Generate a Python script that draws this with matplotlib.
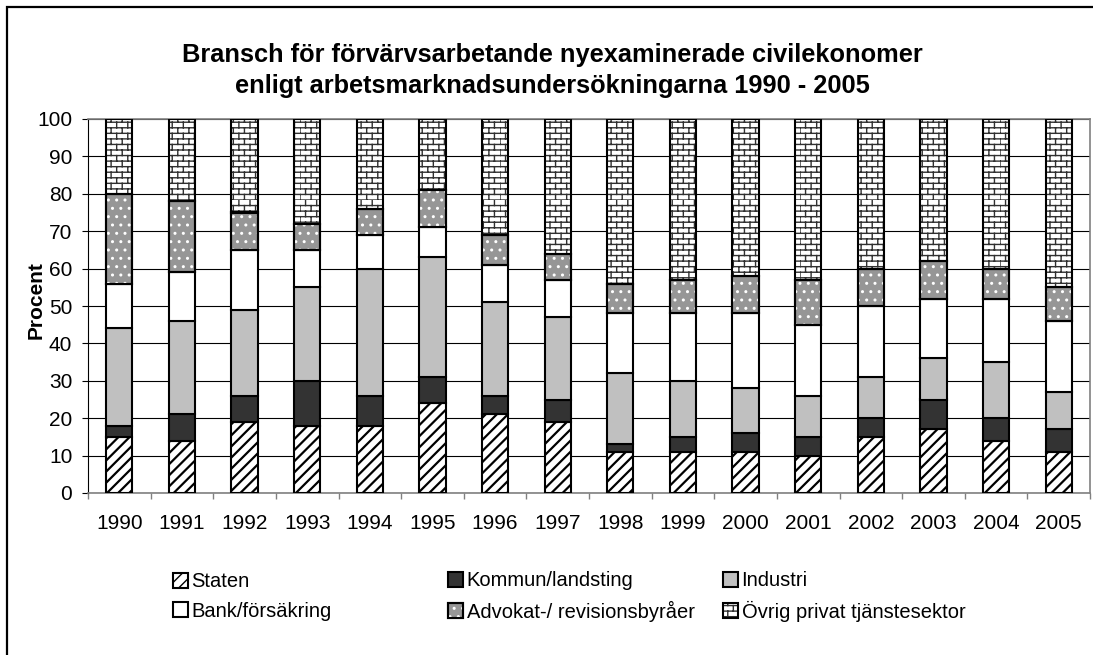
import warnings
import matplotlib
matplotlib.use("Agg")
import matplotlib.pyplot as plt
import numpy as np
from matplotlib import hatch as mhatch
from matplotlib.path import Path
from matplotlib.patches import Rectangle

warnings.filterwarnings("ignore")
plt.rcParams["font.family"] = ["Liberation Sans", "DejaVu Sans"]
plt.rcParams["hatch.linewidth"] = 1.0


# brick hatch ("b") for the last series, like the Excel pattern
class BrickHatch(mhatch.HatchPatternBase):
    def __init__(self, hatch, density):
        n = hatch.count("b")
        self.rows = 18 * n
        self.cols = 9 * n
        self.num_vertices = (self.rows + self.rows * self.cols) * 2 if n else 0

    def set_vertices_and_codes(self, vertices, codes):
        k = 0
        dy = 1.0 / self.rows
        dx = 1.0 / self.cols
        for r in range(self.rows):
            y0 = r * dy
            vertices[k] = (0, y0)
            vertices[k + 1] = (1, y0)
            codes[k] = Path.MOVETO
            codes[k + 1] = Path.LINETO
            k += 2
            off = dx / 2 if r % 2 else 0
            for c in range(self.cols):
                x0 = c * dx + off
                vertices[k] = (x0, y0)
                vertices[k + 1] = (x0, y0 + dy)
                codes[k] = Path.MOVETO
                codes[k + 1] = Path.LINETO
                k += 2


mhatch._hatch_types.append(BrickHatch)

years = ["1990", "1991", "1992", "1993", "1994", "1995", "1996", "1997",
         "1998", "1999", "2000", "2001", "2002", "2003", "2004", "2005"]

staten = [15, 14, 19, 18, 18, 24, 21, 19, 11, 11, 11, 10, 15, 17, 14, 11]
kommun = [3, 7, 7, 12, 8, 7, 5, 6, 2, 4, 5, 5, 5, 8, 6, 6]
industri = [26, 25, 23, 25, 34, 32, 25, 22, 19, 15, 12, 11, 11, 11, 15, 10]
bank = [12, 13, 16, 10, 9, 8, 10, 10, 16, 18, 20, 19, 19, 16, 17, 19]
advokat = [24, 19, 10, 7, 7, 10, 8, 7, 8, 9, 10, 12, 10, 10, 8, 9]
ovrig = [20, 22, 25, 28, 24, 19, 31, 36, 44, 43, 42, 43, 40, 38, 40, 45]

labels = ["Staten", "Kommun/landsting", "Industri",
          "Bank/försäkring", "Advokat-/ revisionsbyråer", "Övrig privat tjänstesektor"]

fig = plt.figure(figsize=(10.93, 6.55), dpi=100)
ax = fig.add_axes([88 / 1093, 1 - 493 / 655, 1002 / 1093, 374 / 655])

x = np.arange(len(years))
w = 0.42
lw = 1.5
bottom = np.zeros(len(years))

with plt.rc_context({"hatch.linewidth": 1.6}):
    h_staten = ax.bar(x, staten, w, bottom=bottom, facecolor="white", edgecolor="black",
                      hatch="///", linewidth=lw, zorder=3)
bottom += staten
h_kommun = ax.bar(x, kommun, w, bottom=bottom, facecolor="#333333", edgecolor="black",
                  linewidth=lw, zorder=3)
bottom += kommun
h_ind = ax.bar(x, industri, w, bottom=bottom, facecolor="#c0c0c0", edgecolor="black",
               linewidth=lw, zorder=3)
bottom += industri
h_bank = ax.bar(x, bank, w, bottom=bottom, facecolor="white", edgecolor="black",
                linewidth=lw, zorder=3)
bottom += bank
# gray fill with white dots on top
h_adv = ax.bar(x, advokat, w, bottom=bottom, facecolor="#969696", edgecolor="black",
               linewidth=lw, zorder=3)
h_adv_dots = ax.bar(x, advokat, w, bottom=bottom, facecolor="none", edgecolor="white",
                    hatch="..", linewidth=0, zorder=4)
h_adv_edge = ax.bar(x, advokat, w, bottom=bottom, facecolor="none", edgecolor="black",
                    linewidth=lw, zorder=5)
bottom += advokat
# bricks: grey mortar lines, black outline drawn on top
h_ovrig_fill = ax.bar(x, ovrig, w, bottom=bottom, facecolor="white", edgecolor="#303030",
                      hatch="b", linewidth=0, zorder=3)
h_ovrig_edge = ax.bar(x, ovrig, w, bottom=bottom, facecolor="none", edgecolor="black",
                      linewidth=lw, zorder=5)

ax.set_xlim(-0.5, len(years) - 0.5)
ax.set_ylim(0, 100)
ax.set_yticks(np.arange(0, 101, 10))
ax.set_xticks(x)
ax.set_xticklabels(years)
ax.set_xticks(np.arange(-0.5, len(years), 1), minor=True)
ax.tick_params(axis="x", which="major", length=0, pad=15, labelsize=15)
ax.tick_params(axis="x", which="minor", length=4, width=1, color="#808080", direction="out")
ax.tick_params(axis="y", length=4.3, width=0.8, pad=7, labelsize=15, direction="out")

ax.yaxis.grid(True, color="black", linewidth=0.8, zorder=0)
ax.set_axisbelow(True)
for side in ["top", "right", "bottom"]:
    ax.spines[side].set_color("#808080")
    ax.spines[side].set_linewidth(1.2)
ax.spines["left"].set_color("black")
ax.spines["left"].set_linewidth(0.8)

ax.set_ylabel("Procent", fontsize=15, fontweight="bold")
ax.yaxis.set_label_coords(-0.042, 0.515)

fig.suptitle("Bransch för förvärvsarbetande nyexaminerade civilekonomer\n"
             "enligt arbetsmarknadsundersökningarna 1990 - 2005",
             x=552 / 1093, y=1 - 70.5 / 655, va="center", ha="center",
             fontsize=18.3, fontweight="bold", linespacing=1.38)

# legend in three equal columns placed like the original
handles = [h_staten, h_kommun, h_ind, h_bank, (h_adv, h_adv_dots, h_adv_edge),
           (h_ovrig_fill, h_ovrig_edge)]
cols = [(173, [0, 3]), (448, [1, 4]), (723, [2, 5])]
for xpos, idx in cols:
    fig.legend([handles[i] for i in idx], [labels[i] for i in idx],
               loc="center left", bbox_to_anchor=(xpos / 1093, 1 - 596.5 / 655),
               frameon=False, fontsize=14.5, borderpad=0, borderaxespad=0,
               handlelength=0.72, handleheight=0.72, handletextpad=0.2,
               labelspacing=0.5)

# outer chart border (clipped at right and bottom like the original)
fig.patches.append(Rectangle((7 / 1093, -0.1), 1.2, 1.1 - 7 / 655, transform=fig.transFigure,
                             fill=False, edgecolor="black", linewidth=1.6))

fig.savefig("out.png", dpi=100)
